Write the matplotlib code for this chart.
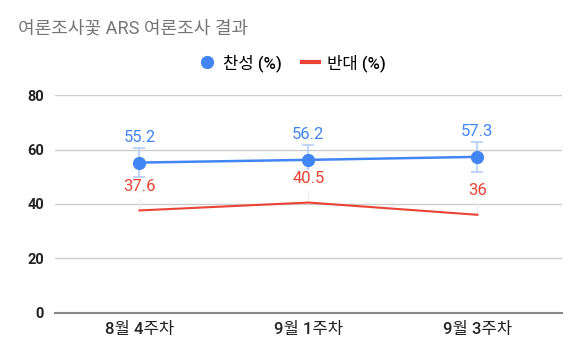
import matplotlib
matplotlib.use("Agg")
import matplotlib.pyplot as plt
from matplotlib.lines import Line2D

plt.rcParams['font.family'] = ['Roboto', 'Noto Sans CJK KR', 'DejaVu Sans']

categories = ["8월 4주차", "9월 1주차", "9월 3주차"]
favor = [55.2, 56.2, 57.3]
favor_err = [5.4, 5.5, 5.5]
oppose = [37.6, 40.5, 36]
yticks = [0, 20, 40, 60, 80]

blue = "#4285F4"
red = "#EA4335"

fig = plt.figure(figsize=(5.8, 3.59), dpi=100)
ax = fig.add_axes([0.0948, 0.129, 0.874, 0.606])
x = list(range(len(categories)))

# faint leader lines for the red series
ax.errorbar(x, oppose, yerr=[[0]*3, [4.5]*3], fmt='none', ecolor='#eeeeee',
            elinewidth=1, capsize=0, zorder=1)
ax.plot(x, oppose, color=red, lw=1.5, zorder=3)
ax.errorbar(x, favor, yerr=favor_err, fmt='none', ecolor='#b3cdfa',
            elinewidth=1.2, capsize=4, capthick=1.2, zorder=2)
ax.plot(x, favor, color=blue, lw=1.8, marker='o', ms=8.5, zorder=4)

for xi, v in zip(x, favor):
    ax.annotate(f"{v:g}", (xi, v), xytext=(0, 25), textcoords='offset pixels',
                ha='center', va='center', color=blue, fontsize=12, zorder=5)
for xi, v in zip(x, oppose):
    ax.annotate(f"{v:g}", (xi, v), xytext=(0, 24), textcoords='offset pixels',
                ha='center', va='center', color=red, fontsize=12, zorder=5,
                bbox=dict(boxstyle='square,pad=0.05', fc='white', ec='none'))

ax.set_xlim(-0.5, 2.5)
ax.set_ylim(0, 80)
ax.set_yticks(yticks)
ax.set_yticklabels([str(t) for t in yticks], fontsize=10.5, fontweight='bold', color='#222222')
ax.set_xticks(x)
ax.set_xticklabels(categories, fontsize=12, fontweight='medium', color='#222222')
ax.tick_params(axis='y', length=0, pad=8)
ax.tick_params(axis='x', length=0, pad=7)
ax.grid(axis='y', color='#cccccc', lw=1)
ax.set_axisbelow(True)
for s in ['top', 'right', 'left']:
    ax.spines[s].set_visible(False)
ax.spines['bottom'].set_color('#888888')
ax.spines['bottom'].set_linewidth(1.5)

fig.text(18/580, 1 - 28/359, "여론조사꽃 ARS 여론조사 결과", fontsize=13,
         color='#757575', ha='left', va='center')

handles = [Line2D([], [], color=blue, marker='o', ls='none', ms=8.5),
           Line2D([], [], color=red, lw=3)]
fig.legend(handles, ["찬성 (%)", "반대 (%)"], loc='center', bbox_to_anchor=(292/580, 1 - 63/359),
           ncol=2, frameon=False, handlelength=1.0, handletextpad=0.5,
           columnspacing=1.2, prop={'weight': 'medium', 'size': 12})

fig.savefig("out.png", dpi=100)
